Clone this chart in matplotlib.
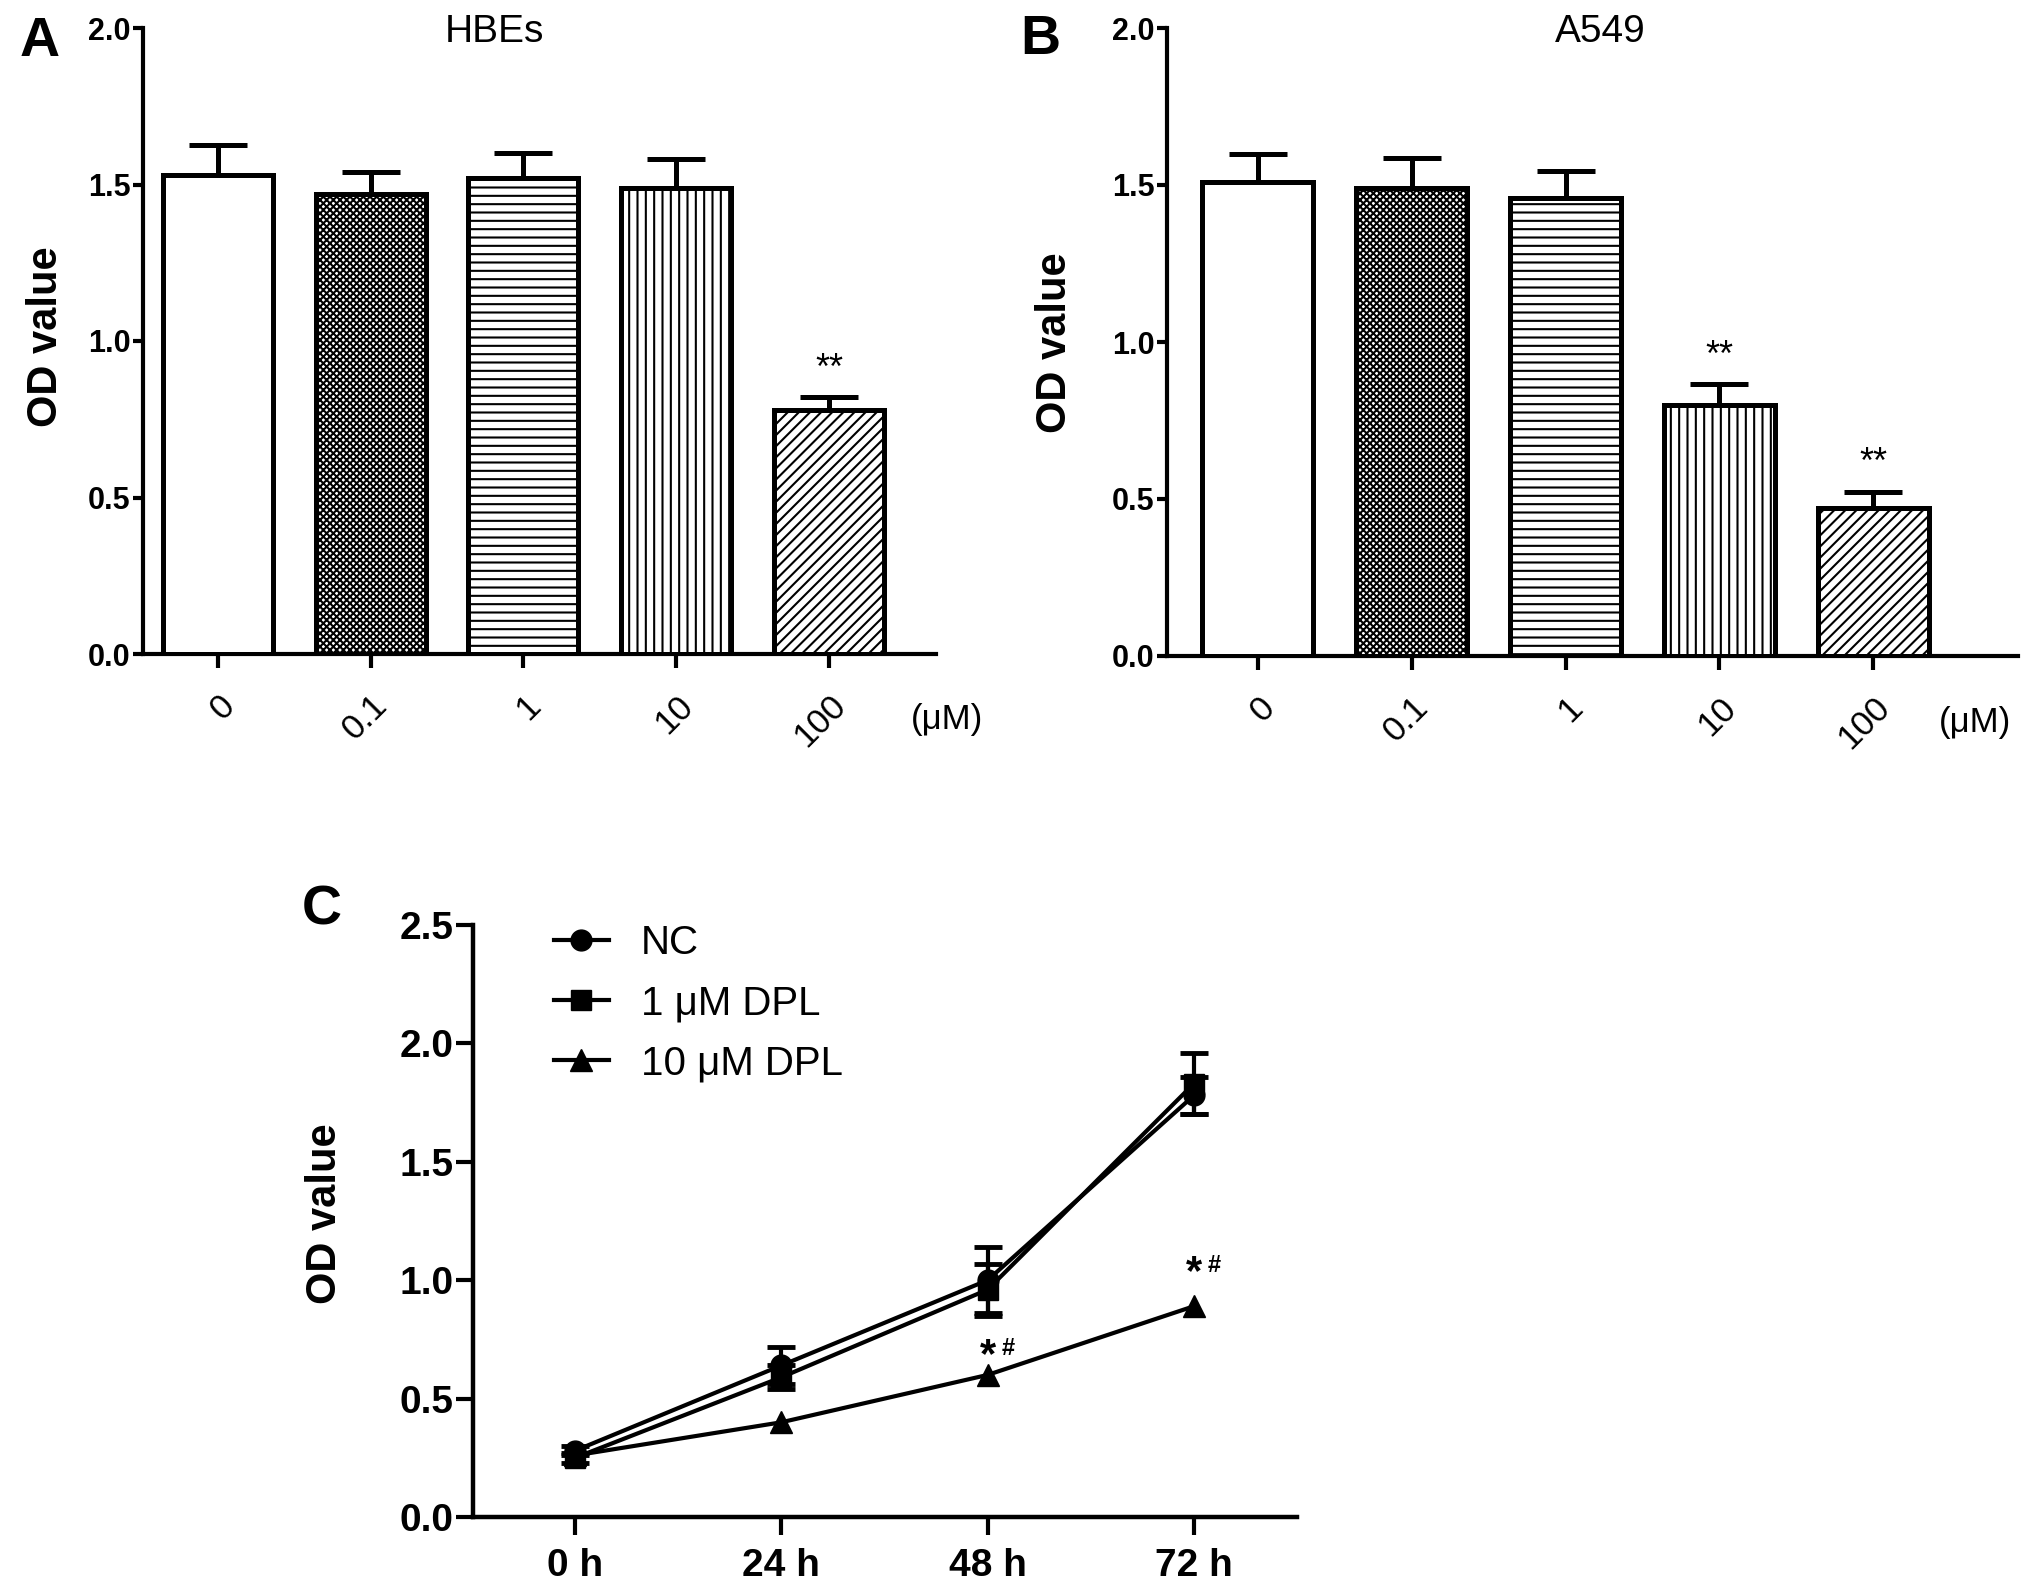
#!/usr/bin/env python3
"""
plot.py — OD value bars (HBEs / A549) + growth curve (NC vs DPL)
"""
import matplotlib
matplotlib.use('Agg')
import matplotlib.pyplot as plt
import numpy as np

# ---- data: panels A / B ----
DOSES = ['0', '0.1', '1', '10', '100']
HBES_OD = [1.53, 1.47, 1.52, 1.49, 0.78]
HBES_ERR = [0.095, 0.07, 0.08, 0.09, 0.04]
A549_OD = [1.51, 1.49, 1.46, 0.80, 0.47]
A549_ERR = [0.09, 0.095, 0.085, 0.065, 0.052]
HBES_SIG = {4: '**'}
A549_SIG = {3: '**', 4: '**'}

# ---- data: panel C ----
TIMES = ['0 h', '24 h', '48 h', '72 h']
NC_OD = [0.28, 0.64, 1.00, 1.78]
NC_ERR = [0.02, 0.08, 0.14, 0.08]
DPL1_OD = [0.25, 0.59, 0.96, 1.83]
DPL1_ERR = [0.02, 0.05, 0.11, 0.13]
DPL10_OD = [0.26, 0.40, 0.60, 0.89]
C_SIG = {2: 0.73, 3: 1.08}     # '*#' centre heights

HATCHES = ['', 'xxxxx', '--', '||', '///']
W, H = 2031, 1591

plt.rcParams['font.family'] = ['Liberation Sans', 'DejaVu Sans']
plt.rcParams['hatch.linewidth'] = 1.5


def fx(px):
    return px / W


def fy(py):
    return 1 - py / H


def style_axes(ax, lw):
    for s in ('top', 'right'):
        ax.spines[s].set_visible(False)
    for s in ('left', 'bottom'):
        ax.spines[s].set_linewidth(lw)


def bar_panel(fig, rect, xlim, vals, errs, sig, title, title_x):
    ax = fig.add_axes(rect)
    x = np.arange(len(DOSES))
    bars = ax.bar(x, vals, width=0.72, color='white', edgecolor='black',
                  linewidth=3.6, zorder=3)
    for b, h in zip(bars, HATCHES):
        b.set_hatch(h)
    ax.errorbar(x, vals, yerr=errs, fmt='none', ecolor='black',
                elinewidth=3.6, capsize=21, capthick=3.6, zorder=2)
    for i, s in sig.items():
        ax.text(x[i], vals[i] + errs[i] + 0.06, s, ha='center', va='baseline',
                fontsize=26)
    ax.set_xlim(*xlim)
    ax.set_ylim(0, 2.0)
    ax.set_yticks([0.0, 0.5, 1.0, 1.5, 2.0])
    ax.set_yticklabels(['0.0', '0.5', '1.0', '1.5', '2.0'],
                       fontsize=22, fontweight='bold')
    ax.set_xticks(x)
    ax.set_xticklabels(DOSES, fontsize=25, rotation=45, ha='right',
                       rotation_mode='anchor')
    ax.tick_params(axis='x', length=10, width=3, pad=15)
    ax.tick_params(axis='y', length=7, width=3, pad=2)
    style_axes(ax, 3)
    fig.text(fx(title_x), fy(32), title, ha='center', va='center', fontsize=28)
    return ax


def main():
    fig = plt.figure(figsize=(W / 100, H / 100), dpi=100)

    # ---- A / B ----
    bar_panel(fig, [fx(143), fy(654), fx(936) - fx(143), fy(28) - fy(654)],
              (-0.49, 4.70), HBES_OD, HBES_ERR, HBES_SIG, 'HBEs', 494)
    bar_panel(fig, [fx(1167), fy(656), fx(2018) - fx(1167), fy(28) - fy(656)],
              (-0.59, 4.94), A549_OD, A549_ERR, A549_SIG, 'A549', 1600)

    fig.text(fx(947), fy(720), '(μM)', ha='center', va='center', fontsize=25)
    fig.text(fx(1975), fy(723), '(μM)', ha='center', va='center', fontsize=25)

    # ---- C ----
    ax = fig.add_axes([fx(473), fy(1517), fx(1297) - fx(473), fy(925) - fy(1517)])
    t = np.arange(len(TIMES))
    series = [(NC_OD, NC_ERR, 'o', 15, 'NC'),
              (DPL1_OD, DPL1_ERR, 's', 14, '1 μM DPL'),
              (DPL10_OD, None, '^', 16, '10 μM DPL')]
    for vals, errs, mk, ms, lab in series:
        if errs is not None:
            ax.errorbar(t, vals, yerr=errs, fmt='none', ecolor='black',
                        elinewidth=3, capsize=10, capthick=3.5, zorder=2)
        ax.plot(t, vals, color='black', lw=3, marker=mk, markersize=ms,
                label=lab, zorder=3)
    for i, yc in C_SIG.items():
        base = yc - 0.097
        ax.text(t[i], base, '*', ha='center', va='baseline', fontsize=30,
                fontweight='bold')
        ax.annotate('#', xy=(t[i], base), xytext=(10, 9),
                    textcoords='offset points', ha='left', va='baseline',
                    fontsize=17, fontweight='bold')
    ax.set_xlim(-0.495, 3.50)
    ax.set_ylim(0, 2.5)
    ax.set_xticks(t)
    ax.set_xticklabels(TIMES, fontsize=28, fontweight='bold')
    ax.set_yticks([0.0, 0.5, 1.0, 1.5, 2.0, 2.5])
    ax.set_yticklabels(['0.0', '0.5', '1.0', '1.5', '2.0', '2.5'],
                       fontsize=28, fontweight='bold')
    ax.tick_params(axis='x', length=13, width=3, pad=9)
    ax.tick_params(axis='y', length=12, width=3, pad=2)
    style_axes(ax, 3.2)
    ax.legend(loc='upper left', bbox_to_anchor=(fx(554), fy(924)),
              bbox_transform=fig.transFigure, frameon=False, fontsize=29,
              borderpad=0, borderaxespad=0, handlelength=1.36,
              handletextpad=0.8, labelspacing=0.55)

    # ---- y labels + panel letters ----
    for px, py in [(46, 337), (1055, 343), (325, 1214)]:
        fig.text(fx(px), fy(py), 'OD value', rotation=90, ha='center',
                 va='center', fontsize=30, fontweight='bold')
    for px, py, s in [(40, 42, 'A'), (1040, 40, 'B'), (322, 910, 'C')]:
        fig.text(fx(px), fy(py), s, ha='center', va='center', fontsize=40,
                 fontweight='bold')

    fig.savefig('out.png', dpi=100)
    plt.close(fig)


if __name__ == '__main__':
    main()
